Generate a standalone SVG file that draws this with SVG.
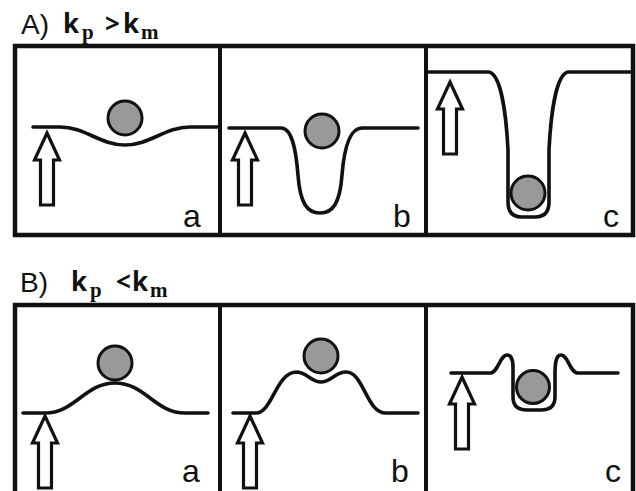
<svg xmlns="http://www.w3.org/2000/svg" xmlns:xlink="http://www.w3.org/1999/xlink" width="636" height="491" viewBox="0 0 636 491">
<style>
.box{fill:none;stroke:#111;stroke-width:4.5}
.div{stroke:#111;stroke-width:4}
.curve{fill:none;stroke:#111;stroke-width:3.6;stroke-linecap:round;stroke-linejoin:round}
.ball{fill:#999;stroke:#111;stroke-width:3}
.arr{fill:#fff;stroke:#111;stroke-width:3.2;stroke-linejoin:miter}
.lab{font-family:"Liberation Sans",Arial,sans-serif;font-size:32px;fill:#111}
.ttl{font-family:"Liberation Sans",Arial,sans-serif;font-size:28px;fill:#111}
.k{font-family:"Open Sans","DejaVu Sans",sans-serif;font-weight:bold;font-size:26px;fill:#111}
.sub{font-family:"Liberation Serif","DejaVu Serif",serif;font-weight:bold;font-size:21px;fill:#111}
</style>
<defs>
<path id="arr" class="arr" d="M0,0 L12.5,27 L6.5,27 L6.5,72 L-6.5,72 L-6.5,27 L-12.5,27 Z"/>
</defs>
<rect width="636" height="491" fill="#fff"/>
<g id="titleA">
<text class="ttl" x="21" y="34">A)</text>
<text class="k" x="63" y="33">k</text><text class="sub" x="82" y="39">p</text>
<text class="k" x="105" y="33">&gt;</text>
<text class="k" x="123" y="33">k</text><text class="sub" x="141" y="39">m</text>
</g>
<g id="titleB">
<text class="ttl" x="20" y="292">B)</text>
<text class="k" x="71" y="291">k</text><text class="sub" x="90" y="297">p</text>
<text class="k" x="116" y="291">&lt;</text>
<text class="k" x="132" y="291">k</text><text class="sub" x="150" y="297">m</text>
</g>
<g id="frameA">
<rect class="box" x="15" y="46" width="618" height="189"/>
<line class="div" x1="220" y1="46" x2="220" y2="235"/>
<line class="div" x1="426" y1="46" x2="426" y2="235"/>
</g>
<g id="frameB">
<rect class="box" x="15" y="305" width="618" height="195"/>
<line class="div" x1="220" y1="305" x2="220" y2="491"/>
<line class="div" x1="426" y1="305" x2="426" y2="491"/>
</g>
<g id="Aa">
<path class="curve" d="M33,127 H60 C85,127 100,145 125,145 C150,145 165,127 190,127 H219"/>
<circle class="ball" cx="125" cy="118" r="17"/>
<use xlink:href="#arr" x="47" y="133"/>
<text class="lab" x="183" y="227">a</text>
</g>
<g id="Ab">
<path class="curve" d="M229,128 H281 C292,128 296,150 298,175 C300,203 307,213 320,213 C333,213 340,203 342,175 C344,150 349,128 362,128 H418"/>
<circle class="ball" cx="322" cy="131" r="17"/>
<use xlink:href="#arr" x="245" y="133"/>
<text class="lab" x="393" y="227">b</text>
</g>
<g id="Ac">
<path class="curve" d="M429,72 H488 C500,72 506,110 508,150 V202 C508,212 513,217 522,217 H535 C544,217 549,212 549,202 V150 C551,110 557,72 569,72 H633"/>
<circle class="ball" cx="528" cy="193" r="17"/>
<use xlink:href="#arr" x="450" y="82"/>
<text class="lab" x="603" y="227">c</text>
</g>
<g id="Ba">
<path class="curve" d="M23,413 H45 C75,413 85,383 115,383 C145,383 155,413 185,413 H208"/>
<circle class="ball" cx="115" cy="363" r="17"/>
<use xlink:href="#arr" x="45" y="416"/>
<text class="lab" x="182" y="482">a</text>
</g>
<g id="Bb">
<path class="curve" d="M233,413 H256 C272,413 276,373 296,372 C307,372 311,382 321,382 C331,382 335,372 346,372 C364,372 366,413 386,413 H418"/>
<circle class="ball" cx="321" cy="356" r="17"/>
<use xlink:href="#arr" x="250" y="416"/>
<text class="lab" x="391" y="482">b</text>
</g>
<g id="Bc">
<path class="curve" d="M451,373 H490 C498,373 500,355 507,355 C514,355 513,367 513,375 V397 C513,406 518,410 527,410 H541 C550,410 555,406 555,397 V375 C555,367 555,355 561,355 C568,355 570,373 578,373 H618"/>
<circle class="ball" cx="533" cy="387" r="16.5"/>
<use xlink:href="#arr" x="462" y="377"/>
<text class="lab" x="605" y="482">c</text>
</g>
</svg>
